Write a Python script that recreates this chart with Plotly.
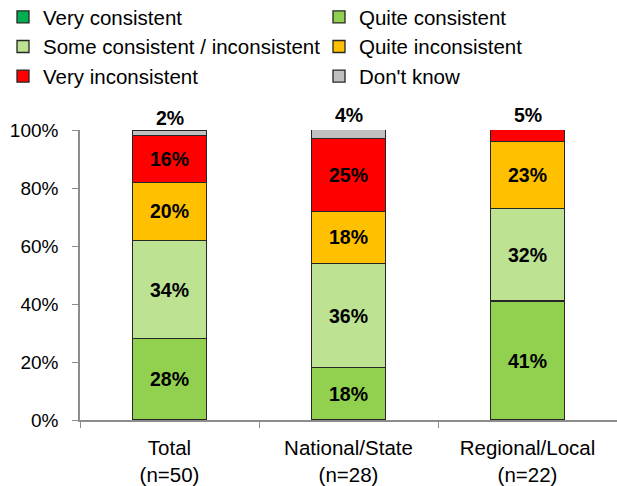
import plotly.graph_objects as go

categories = ["Total<br>(n=50)", "National/State<br>(n=28)", "Regional/Local<br>(n=22)"]

very_consistent = [0, 0, 0]
quite_consistent = [28, 18, 41]
some_consistent = [34, 36, 32]
quite_inconsistent = [20, 18, 23]
very_inconsistent = [16, 25, 5]
dont_know = [2, 4, 0]

# (name, values, colour, legend column)
series = [
    ("Very consistent", very_consistent, "#00B050", "legend"),
    ("Quite consistent", quite_consistent, "#92D050", "legend2"),
    ("Some consistent / inconsistent", some_consistent, "#BCE292", "legend"),
    ("Quite inconsistent", quite_inconsistent, "#FFC000", "legend2"),
    ("Very inconsistent", very_inconsistent, "#FF0000", "legend"),
    ("Don't know", dont_know, "#C0C0C0", "legend2"),
]

FONT = "Liberation Sans, Arial, sans-serif"
LABEL_FONT = dict(family=FONT, size=19.5, color="#000000", weight="bold")
Y_MAX = 100

fig = go.Figure()
top_labels = {}
for i, (name, vals, color, leg) in enumerate(series):
    labels = []
    for j, v in enumerate(vals):
        is_top = all(series[k][1][j] == 0 for k in range(i + 1, len(series)))
        if v and is_top and v < 8:
            # thin top segment: label goes above the stack
            top_labels[j] = v
            labels.append("")
        else:
            labels.append(f"{v}%" if v else "")
    fig.add_trace(go.Bar(
        name=name,
        x=categories,
        y=vals,
        text=labels,
        textposition="inside",
        insidetextanchor="middle",
        textangle=0,
        insidetextfont=LABEL_FONT,
        marker=dict(color=color, line=dict(color="#262626", width=1.3)),
        legend=leg,
        legendgroup=name,
        hoverinfo="skip",
    ))

# labels above the stacks, positioned at each stack's total
stack_totals = [sum(s[1][j] for s in series) for j in range(len(categories))]
for j, v in top_labels.items():
    fig.add_annotation(
        x=categories[j], xref="x",
        y=stack_totals[j] / Y_MAX, yref="paper",
        text=f"<b>{v}%</b>", showarrow=False,
        yanchor="bottom", yshift=-1,
        font=dict(family=FONT, size=19.5, color="#000000"),
    )

legend_common = dict(
    orientation="v",
    xref="container", yref="paper",
    xanchor="left", yanchor="top",
    traceorder="normal",
    tracegroupgap=2,
    font=dict(family=FONT, size=20.5, color="#000000"),
    bgcolor="rgba(0,0,0,0)",
)
LEGEND_Y = 1 + 133 / 290

fig.update_layout(
    barmode="stack",
    bargap=0.59,
    width=617,
    height=486,
    margin=dict(l=80, r=0, t=130, b=66, autoexpand=False),
    paper_bgcolor="white",
    plot_bgcolor="white",
    font=dict(family=FONT, size=19, color="#000000"),
    uniformtext=dict(minsize=19, mode="show"),
    showlegend=True,
    legend=dict(x=3 / 617, y=LEGEND_Y, **legend_common),
    legend2=dict(x=319 / 617, y=LEGEND_Y, **legend_common),
    xaxis=dict(
        showline=True, linecolor="#8C8C8C", linewidth=1.5,
        ticks="outside", tickson="boundaries", ticklen=6,
        tickcolor="#8C8C8C", tickwidth=1,
        ticklabelstandoff=9,
        tickfont=dict(family=FONT, size=20.5, color="#000000"),
        showgrid=False, fixedrange=True,
    ),
    yaxis=dict(
        range=[0, Y_MAX], dtick=20, ticksuffix="%",
        showline=True, linecolor="#8C8C8C", linewidth=1.5,
        ticks="outside", ticklen=6, tickcolor="#8C8C8C", tickwidth=1,
        ticklabelstandoff=10,
        tickfont=dict(family=FONT, size=19, color="#000000"),
        showgrid=False, zeroline=False, fixedrange=True,
    ),
)

fig.write_html("out.html")
